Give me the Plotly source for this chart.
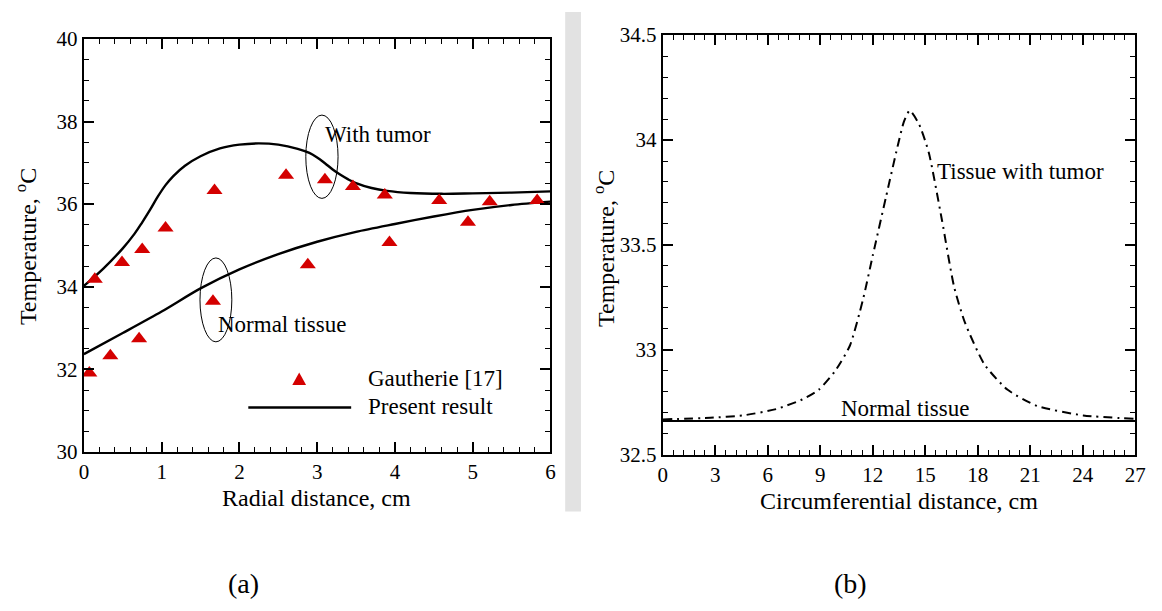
import plotly.graph_objects as go

FONT = "Liberation Serif"

# ---------------- Panel (a) data ----------------
gauth_x = [0.07, 0.14, 0.34, 0.49, 0.71, 0.75, 1.05, 1.66, 1.68, 2.60, 2.88, 3.10,
           3.46, 3.87, 3.93, 4.57, 4.94, 5.22, 5.83]
gauth_y = [31.91, 34.18, 32.33, 34.59, 32.74, 34.90, 35.42, 33.65, 36.33, 36.70, 34.53, 36.59,
           36.43, 36.22, 35.07, 36.09, 35.56, 36.06, 36.09]

tumor_x = [0.0, 0.25, 0.5, 0.65, 0.75, 0.85, 0.95, 1.05, 1.15, 1.3, 1.5, 1.75, 2.0, 2.25,
           2.5, 2.75, 2.9, 3.0, 3.1, 3.2, 3.3, 3.4, 3.5, 3.7, 3.9, 4.2, 4.6, 5.0, 5.5, 6.0]
tumor_y = [34.02, 34.44, 34.93, 35.28, 35.56, 35.86, 36.18, 36.46, 36.68, 36.93, 37.16, 37.35,
           37.44, 37.47, 37.44, 37.34, 37.24, 37.13, 36.99, 36.84, 36.71, 36.60, 36.51, 36.39,
           36.32, 36.27, 36.25, 36.26, 36.28, 36.31]

normal_x = [0.0, 0.5, 1.0, 1.5, 2.0, 2.5, 3.0, 3.5, 4.0, 4.5, 5.0, 5.5, 6.0]
normal_y = [32.37, 32.88, 33.40, 33.96, 34.42, 34.79, 35.09, 35.33, 35.52, 35.70, 35.86, 35.98, 36.06]

# ---------------- Panel (b) data ----------------
circ_x = [0.0, 2.71, 4.58, 6.47, 7.97, 8.91, 9.85, 10.69, 11.44, 12.0, 12.76, 13.42,
          13.79, 14.11, 14.64, 15.20, 15.95, 16.65, 17.27, 18.39, 19.71, 21.40, 24.03, 27.0]
circ_tumor = [32.669, 32.677, 32.688, 32.718, 32.764, 32.810, 32.900, 33.020, 33.240,
              33.450, 33.730, 33.970, 34.090, 34.140, 34.076, 33.940, 33.620, 33.300, 33.130,
              32.930, 32.810, 32.733, 32.688, 32.672]
circ_norm_x = [0.0, 27.0]
circ_norm_y = [32.661, 32.661]

# panel placement (pixels)
W, H = 1162, 611
ax1 = dict(x0=80, x1=553, y0=28, y1=458)
ax2 = dict(x0=667, x1=1146, y0=24, y1=461)


def dom_x(a):
    return [a["x0"] / W, a["x1"] / W]


def dom_y(a):
    return [1 - a["y1"] / H, 1 - a["y0"] / H]


fig = go.Figure()

# Panel (a)
fig.add_trace(go.Scatter(x=tumor_x, y=tumor_y, mode="lines",
                         line=dict(color="black", width=2.4, shape="spline", smoothing=1.0),
                         xaxis="x", yaxis="y", showlegend=False))
fig.add_trace(go.Scatter(x=normal_x, y=normal_y, mode="lines",
                         line=dict(color="black", width=2.4, shape="spline", smoothing=0.8),
                         xaxis="x", yaxis="y", showlegend=False))
fig.add_trace(go.Scatter(x=gauth_x, y=gauth_y, mode="markers",
                         marker=dict(symbol="triangle-up", size=14, color="#d40000", line=dict(width=0)),
                         xaxis="x", yaxis="y", showlegend=False))

# Panel (b)
fig.add_trace(go.Scatter(x=circ_x, y=circ_tumor, mode="lines",
                         line=dict(color="black", width=2, shape="spline", smoothing=0.6,
                                   dash="9px,5px,2px,5px"),
                         xaxis="x2", yaxis="y2", showlegend=False))
fig.add_trace(go.Scatter(x=circ_norm_x, y=circ_norm_y, mode="lines", line=dict(color="black", width=2),
                         xaxis="x2", yaxis="y2", showlegend=False))

tickfont = dict(family=FONT, size=21, color="black")


def axis_common(domain, rng, dtick, minor_dtick, anchor, show_labels=True, **kw):
    d = dict(domain=domain, range=rng, dtick=dtick, tick0=rng[0], anchor=anchor,
             showgrid=False, zeroline=False, showline=True, linecolor="black", linewidth=2.2,
             mirror="allticks", ticks="inside", ticklen=10, tickwidth=2, tickcolor="black",
             tickfont=tickfont, showticklabels=show_labels,
             minor=dict(dtick=minor_dtick, tick0=rng[0], ticks="inside", ticklen=5, tickwidth=1.2,
                        tickcolor="black", showgrid=False))
    d.update(kw)
    return d


fig.update_layout(
    width=W, height=H,
    margin=dict(l=0, r=0, t=0, b=0),
    paper_bgcolor="white", plot_bgcolor="white",
    xaxis=axis_common(dom_x(ax1), [0, 6], 1, 0.2, "y"),
    yaxis=axis_common(dom_y(ax1), [30, 40], 2, 0.5, "x"),
    xaxis2=axis_common(dom_x(ax2), [0, 27], 3, 0.6, "y2"),
    yaxis2=axis_common(dom_y(ax2), [32.5, 34.5], 0.5, 0.1, "x2"),
    # overlay axes to place minor ticks on the top and right edges
    xaxis3=axis_common(dom_x(ax1), [0, 6], 1, 0.2, "y", False, overlaying="x", side="top", mirror=False),
    yaxis3=axis_common(dom_y(ax1), [30, 40], 2, 0.5, "x", False, overlaying="y", side="right", mirror=False),
    xaxis4=axis_common(dom_x(ax2), [0, 27], 3, 0.6, "y2", False, overlaying="x2", side="top", mirror=False),
    yaxis4=axis_common(dom_y(ax2), [32.5, 34.5], 0.5, 0.1, "x2", False, overlaying="y2", side="right", mirror=False),
)
# invisible traces so that the overlay axes are drawn
fig.add_trace(go.Scatter(x=[None], y=[None], xaxis="x3", yaxis="y3", showlegend=False, hoverinfo="skip"))
fig.add_trace(go.Scatter(x=[None], y=[None], xaxis="x4", yaxis="y4", showlegend=False, hoverinfo="skip"))

shapes = []
# light gray gutter between panels (background of the page)
shapes.append(dict(type="rect", xref="paper", yref="paper", x0=568 / W, x1=584 / W, y0=1 - 520 / H, y1=1,
                   fillcolor="#e2e2e2", line=dict(width=0), layer="below"))
# ellipses around curves
shapes.append(dict(type="circle", xref="paper", yref="paper", x0=305 / W, x1=337.7 / W,
                   y0=1 - 194 / H, y1=1 - 107.3 / H, line=dict(color="black", width=1)))
shapes.append(dict(type="circle", xref="paper", yref="paper", x0=197.7 / W, x1=230 / W,
                   y0=1 - 343.3 / H, y1=1 - 256 / H, line=dict(color="black", width=1)))
# legend sample line
shapes.append(dict(type="line", xref="paper", yref="paper", x0=246.7 / W, x1=351 / W,
                   y0=1 - 411.7 / H, y1=1 - 411.7 / H, line=dict(color="black", width=2.4)))
# legend sample triangle
shapes.append(dict(type="path", xref="paper", yref="paper",
                   path="M {a},{b} L {c},{d} L {e},{f} Z".format(
                       a=(298.3 - 7) / W, b=1 - (382.3 + 6) / H,
                       c=(298.3 + 7) / W, d=1 - (382.3 + 6) / H,
                       e=298.3 / W, f=1 - (382.3 - 7) / H),
                   fillcolor="#d40000", line=dict(width=0)))
fig.update_layout(shapes=shapes)

ann = []


def add_text(x, y, s, size=23, xanchor="left", angle=0):
    ann.append(dict(x=x / W, y=1 - y / H, xref="paper", yref="paper", text=s, showarrow=False,
                    xanchor=xanchor, yanchor="middle", textangle=angle,
                    font=dict(family=FONT, size=size, color="black")))


add_text(322, 128, "With tumor")
add_text(214, 325, "Normal tissue")
add_text(366, 382, "Gautherie [17]")
add_text(366, 411, "Present result")
add_text(943, 166, "Tissue with tumor")
add_text(913, 413, "Normal tissue", xanchor="center")
# axis titles
add_text(316, 506, "Radial distance, cm", 24, xanchor="center")
add_text(906, 509, "Circumferential distance, cm", 24, xanchor="center")
add_text(22, 244, "Temperature, <sup>o</sup>C", 24, xanchor="center", angle=-90)
add_text(608, 246, "Temperature, <sup>o</sup>C", 24, xanchor="center", angle=-90)
# panel labels
add_text(242, 595, "(a)", 28, xanchor="center")
add_text(857, 595, "(b)", 28, xanchor="center")
fig.update_layout(annotations=ann)

fig.write_html("out.html")
